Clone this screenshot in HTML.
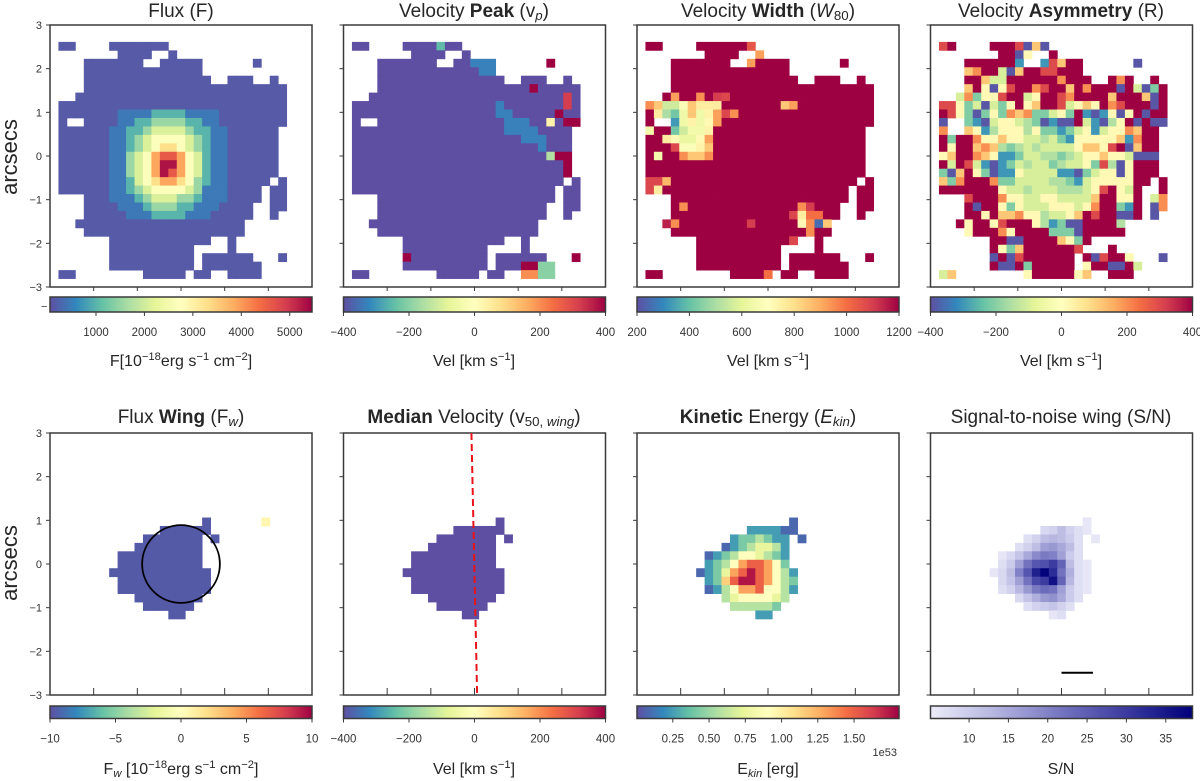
<!DOCTYPE html>
<html><head><meta charset="utf-8">
<style>
html,body{margin:0;padding:0;background:#fff;}
#wrap{position:relative;width:1200px;height:781px;overflow:hidden;font-family:"Liberation Sans",sans-serif;color:#262626;}
.ttl{position:absolute;width:300px;text-align:center;font-size:19px;line-height:24px;white-space:nowrap;}
.cbl{position:absolute;width:300px;text-align:center;font-size:16px;line-height:20px;white-space:nowrap;}
sub{font-size:70%;vertical-align:-3px;line-height:0}
sup{font-size:70%;vertical-align:6px;line-height:0}
svg{position:absolute;left:0;top:0;}
</style></head>
<body>
<div id="wrap">
<svg id="fig" width="1200" height="781"></svg>

<div class="ttl" style="left:31px;top:0px">Flux (F)</div>
<div class="ttl" style="left:324px;top:0px">Velocity <b>Peak</b> (v<sub><i>p</i></sub>)</div>
<div class="ttl" style="left:618px;top:0px">Velocity <b>Width</b> (<i>W</i><sub>80</sub>)</div>
<div class="ttl" style="left:911px;top:0px">Velocity <b>Asymmetry</b> (R)</div>
<div class="ttl" style="left:31px;top:406px">Flux <b>Wing</b> (F<sub><i>w</i></sub>)</div>
<div class="ttl" style="left:324px;top:406px"><b>Median</b> Velocity (v<sub>50, <i>wing</i></sub>)</div>
<div class="ttl" style="left:618px;top:406px"><b>Kinetic</b> Energy (<i>E<sub>kin</sub></i>)</div>
<div class="ttl" style="left:911px;top:406px">Signal-to-noise wing (S/N)</div>

<div class="cbl" style="left:31px;top:352px">F[10<sup>−18</sup>erg s<sup>−1</sup> cm<sup>−2</sup>]</div>
<div class="cbl" style="left:324px;top:352px">Vel [km s<sup>−1</sup>]</div>
<div class="cbl" style="left:618px;top:352px">Vel [km s<sup>−1</sup>]</div>
<div class="cbl" style="left:911px;top:352px">Vel [km s<sup>−1</sup>]</div>
<div class="cbl" style="left:31px;top:760px">F<sub><i>w</i></sub> [10<sup>−18</sup>erg s<sup>−1</sup> cm<sup>−2</sup>]</div>
<div class="cbl" style="left:324px;top:760px">Vel [km s<sup>−1</sup>]</div>
<div class="cbl" style="left:618px;top:760px">E<sub><i>kin</i></sub> [erg]</div>
<div class="cbl" style="left:911px;top:760px">S/N</div>
</div>

<script>
// ---------------- DATA ----------------
const N = 31;
const topMask = [
"","",
".##....#######",
"........####..#",
"....#######..#####......#",
"....##############",
"....###############..###..#",
"....########################",
"...#########################",
".###########################",
".###########################",
".#..########################",
".##########################",
".##########################",
".##########################",
".##########################",
".##########################",
".##########################",
".#########################.#",
".########################.##",
"....#####################.##",
"....####################..##",
"....####################..#",
"...####################",
"....###################",
".......############..#",
".......##########....#",
".......##########.######...#",
".......##########.#######",
".##........#####.##..####",
""];
// flux levels: [row, startCol, digits]
const fluxCore = [
[10,8,"111122221111"],
[11,7,"01122333322110"],[12,6,"0112234444322110"],[13,6,"0112345555432110"],
[14,6,"0112345665432110"],[15,6,"0113457887542110"],[16,6,"0113457997542110"],
[17,6,"0113457987542110"],[18,6,"0112456776532110"],[19,6,"0112345555431110"],
[20,6,"0111234443321110"],[21,7,"0111233322111"],[22,8,"011122221110"]];
const fluxLevelValues = [150,450,1000,1550,2100,2700,3300,3900,4600,5300];
const fluxTicks = [1000,2000,3000,4000,5000];

const vpDefault = -400;
const vpExceptions = [
[2,11,-250],[4,15,-330],[4,16,-330],[4,17,-330],[4,24,400],[5,16,-330],[5,17,-330],
[7,22,400],[8,26,320],[9,18,-330],[9,26,320],[10,18,-330],[10,19,-330],[10,25,400],
[11,19,-330],[11,20,-330],[11,21,-330],[11,24,30],[11,26,400],[11,27,400],
[12,19,-330],[12,20,-330],[12,21,-330],[12,22,-330],[13,21,-330],[13,22,-330],[13,23,-330],
[14,23,-330],[15,24,-150],[15,25,400],[15,26,400],[16,26,400],[17,26,400],
[27,7,400],[27,27,400],[28,21,400],[28,22,400],[28,23,-200],[28,24,-200],
[29,21,200],[29,22,200],[29,23,-200],[29,24,-200]];
const vTicks = [-400,-200,0,200,400];

const wDefault = 1200;
const wExceptions = [
[2,13,1050],[3,14,920],[4,13,920],[8,4,920],[8,7,950],[8,9,1100],[8,10,1080],
[9,1,950],[9,2,850],[9,3,560],[9,4,560],[9,5,680],[9,6,850],[9,7,760],[9,8,760],[9,9,760],[9,17,850],[9,18,920],
[10,2,760],[10,3,500],[10,4,420],[10,5,640],[10,6,850],[10,7,640],[10,8,740],[10,9,920],[10,10,1080],[10,11,950],
[11,4,330],[11,5,640],[11,6,740],[11,7,640],[11,8,720],[11,9,920],
[12,1,650],[12,4,420],[12,5,560],[12,6,650],[12,7,650],[12,8,740],
[13,3,760],[13,4,720],[13,5,620],[13,6,620],[13,7,720],[13,8,920],
[14,4,1080],[14,5,680],[14,6,680],[14,7,740],[14,8,850],
[15,2,650],[15,5,950],[15,6,850],[15,7,850],[15,8,950],
[18,1,1080],[18,2,1080],[18,3,880],[19,1,1080],[19,2,760],
[21,5,950],[21,19,950],[21,20,1100],[22,18,1080],[22,19,760],[22,20,1000],[22,21,1000],
[23,3,1150],[23,4,950],[23,13,1100],[23,19,720],[23,20,950],[23,21,250],[23,22,850],
[24,20,950],[25,18,1080],[29,15,1000]];
const wTicks = [200,400,600,800,1000,1200];

const asym = [
"","",
".rR....RRRrplp",
"........RRpy..R",
"....RRRRRRb..brlRR......p",
"....loRRgplRRrrRRR",
"....RRlggRRRRRRoRRR..RoR..R",
"....lRypyrRRorRRlRoRRRpRgptR",
"...gotyyrRRgyRRroRRRRlRRRlpR",
".rrytgpgtyRylRRrgylyRorRRRpR",
".RrytptytolottgytRbpbypyRpRR",
".p..tbpgyygGtpbppRgbpGyRpRpp",
".o..lybGyyyGyttbtgybgyyolRR",
".RtRRoyylyyggGgtbyyyyylboRR",
".RyRRlolGtGgGggggyllyrRplRR",
".ylRRolybbtggGGtGgyylyygppp",
".RgRrgbpbtgGggtGggytrGpyRRR",
".tplRytpbbyggggbbptgyypyRRR",
".ltoRRRottggggGGtbgyyyyyRR.R",
".RRRRRRRyggGgggGGGgyrRygR..R",
"....rRRRoyyggyygggglRRyyR.go",
"....RpRRytygggyyygyoRRtbR.po",
"....RRyRlloyyGggylRrRRppR.p",
"...RyRRyrRRRyGbtppRRRRG",
"....yRRRoyRRRRtttpRRRRR",
".......RRppRRRRlytR",
".......RytlRRRRRRr...R",
".......pRprRRRRRR.RprRRy...p",
".......RppRtRRRRR.yRRppRg",
".gl........yRRRRRyl..RRR",
""];
const asymCodes = ["R","r","o","l","y","g","G","t","b","p"];
const asymValues = [400,300,200,120,15,-100,-150,-210,-300,-390];

const botMask = [
"","","","","","","","","","",
"..................#",
".............######",
"...........#######.#",
"..........########",
"........##########",
"........##########",
".......############",
"........###########",
"........###########",
"..........########",
"...........######",
"..............##",
"","","","","","","","",""];
const fwDefault = -9.6;
const fwExtra = [[10,25,0.6]];
const fwTicks = [-10,-5,0,5,10];
const v50Default = -400;

const ekinRows = [[10,18,"a"],[11,13,"bbbbaa"],[12,11,"bccdcbb.a"],[13,10,"abcdeedb"],
[14,8,"abcdffedcb"],[15,8,"bcdfhiihfc"],[16,7,"abcehijihfdb"],[17,8,"bcgijjihfdc"],
[18,8,"abdfhhiffdb"],[19,10,"deffffed"],[20,11,"dddddc"],[21,14,"bb"]];
const ekinCodes = ["a","b","c","d","e","f","g","h","i","j"];
const ekinValues = [0.08,0.25,0.42,0.58,0.75,0.9,1.15,1.3,1.5,1.75];
const ekinTicks = [0.25,0.5,0.75,1.0,1.25,1.5];
const ekinTickLabels = ["0.25","0.50","0.75","1.00","1.25","1.50"];

const snRows = [[10,18,[6]],[11,13,[8,9,12,9,7,6]],[12,11,[7,9,12,13,12,10,7]],[12,19,[6]],
[13,10,[7,9,12,16,17,15,12,7]],[14,8,[6,8,11,15,19,21,20,16,10,7]],
[15,8,[7,10,16,22,26,27,30,24,12,7,6]],[16,7,[6,8,12,20,26,34,38,32,22,14,7,6]],
[17,8,[8,11,16,22,28,30,36,24,13,7,6]],[18,8,[7,9,13,17,21,23,22,16,10,7,6]],
[19,10,[8,11,14,17,18,15,10,7]],[20,11,[7,9,10,11,9,7]],[21,14,[6,7]]];
const snTicks = [10,15,20,25,30,35];

const axisTicks = [-3,-2,-1,0,1,2,3];
const xTicks = [-2,-1,0,1,2];

// ---------------- DRAWING ----------------
const NS = "http://www.w3.org/2000/svg";
const svg = document.getElementById("fig");
function el(tag, attrs, parent){
  const e = document.createElementNS(NS, tag);
  for (const k in attrs) e.setAttribute(k, attrs[k]);
  (parent||svg).appendChild(e);
  return e;
}
const SPEC = ["#5e4fa2","#3288bd","#66c2a5","#abdda4","#e6f598","#ffffbf","#fee08b","#fdae61","#f46d43","#d53e4f","#9e0142"];
const PURP = ["#ececfa","#b4b4e0","#7474c0","#3a3aa0","#00007a"];
function hex(h){return [parseInt(h.substr(1,2),16),parseInt(h.substr(3,2),16),parseInt(h.substr(5,2),16)];}
function interp(stops,t){
  t=Math.max(0,Math.min(1,t));
  const f=t*(stops.length-1), i=Math.min(Math.floor(f),stops.length-2), u=f-i;
  const a=hex(stops[i]), b=hex(stops[i+1]);
  return "rgb("+a.map((v,k)=>Math.round(v+(b[k]-v)*u)).join(",")+")";
}

const W = 262;
const colX = [50, 343.5, 637, 930.5];
const rowY = [25, 433];
const CELL_AS = 6/N;

function makeAxes(x0,y0){
  const xs = a => x0 + (a+3)/6*W;
  const ys = a => y0 + (3-a)/6*W;
  return {xs, ys};
}

function drawPanel(pi, x0, y0, getVal, vmin, vmax, stops, name){
  const ax = makeAxes(x0,y0);
  const g = el("g",{});
  
  
  for (let r=0;r<N;r++) for (let c=0;c<N;c++){
    const v = getVal(r,c);
    if (v===null || v===undefined) continue;
    const aL = -3 + c*CELL_AS, aT = 3 - r*CELL_AS;
    const x = ax.xs(aL), y = ax.ys(aT);
    const rc = el("rect",{x:x.toFixed(2),y:y.toFixed(2),width:(W/N+0.4).toFixed(2),height:(W/N+0.4).toFixed(2),fill:interp(stops,(v-vmin)/(vmax-vmin))},g);
    
    
  }
  return ax;
}

function drawFrame(x0,y0,showLabels,inside,name){
  const ax = makeAxes(x0,y0);
  const fr = el("rect",{x:x0,y:y0,width:W,height:W,fill:"none",stroke:"#3a3a3a","stroke-width":1.5});
  
  
  axisTicks.forEach(t=>{
    const y = ax.ys(t);
    el("line",{x1:x0-4,x2:x0,y1:y,y2:y,stroke:"#3a3a3a","stroke-width":1});
    if (showLabels){
      const tx = el("text",{x:x0-8,y:y+4,"text-anchor":"end","font-size":11,fill:"#333","font-family":"Liberation Sans, sans-serif"});
      tx.textContent = t<0 ? "−"+Math.abs(t) : String(t);
      
      
    }
  });
  xTicks.forEach(t=>{
    const x = ax.xs(t);
    if (inside) el("line",{x1:x,x2:x,y1:y0+W,y2:y0+W-7,stroke:"#3a3a3a","stroke-width":1});
    else el("line",{x1:x,x2:x,y1:y0+W,y2:y0+W+4,stroke:"#3a3a3a","stroke-width":1});
  });
}

let gradId=0;
function drawColorbar(x0,y,h,vmin,vmax,stops,ticks,labels,name){
  const id="g"+(gradId++);
  const lg = el("linearGradient",{id:id,x1:"0",x2:"1",y1:"0",y2:"0"});
  for (let i=0;i<=20;i++) el("stop",{offset:(i/20),"stop-color":interp(stops,i/20)},lg);
  const cb = el("rect",{x:x0,y:y,width:W,height:h,fill:"url(#"+id+")",stroke:"#3a3a3a","stroke-width":1.5});
  
  
  ticks.forEach((t,i)=>{
    const x = x0 + (t-vmin)/(vmax-vmin)*W;
    el("line",{x1:x,x2:x,y1:y+h,y2:y+h+4,stroke:"#3a3a3a","stroke-width":1});
    const tx = el("text",{x:x,y:y+h+24,"text-anchor":"middle","font-size":11.5,fill:"#333","font-family":"Liberation Sans, sans-serif"});
    const s = labels ? labels[i] : String(t);
    tx.textContent = s.replace("-","−");
    
    
  });
}

function maskGet(mask,r,c){ const s=mask[r]||""; return s[c]==="#"; }

// Panel 1: flux
const fluxGrid = [];
for (let r=0;r<N;r++){ fluxGrid.push(new Array(N).fill(0)); }
fluxCore.forEach(([r,c0,s])=>{ for(let i=0;i<s.length;i++) fluxGrid[r][c0+i]=+s[i]; });
drawPanel(0,colX[0],rowY[0],(r,c)=> maskGet(topMask,r,c)? fluxLevelValues[fluxGrid[r][c]] : null, 50,5460,SPEC,"flux");
drawFrame(colX[0],rowY[0],true,false,"flux");
drawColorbar(colX[0],297,15,50,5460,SPEC,fluxTicks,null,"flux");

// Panel 2: velocity peak
const vpMap = {}; vpExceptions.forEach(([r,c,v])=>{vpMap[r+","+c]=v;});
drawPanel(1,colX[1],rowY[0],(r,c)=>{ const k=r+","+c; if(k in vpMap) return vpMap[k]; return maskGet(topMask,r,c)?vpDefault:null; },-400,400,SPEC,"velocity-peak");
drawFrame(colX[1],rowY[0],false,false,"velocity-peak");
drawColorbar(colX[1],297,15,-400,400,SPEC,vTicks,null,"velocity-peak");

// Panel 3: velocity width
const wMap = {}; wExceptions.forEach(([r,c,v])=>{wMap[r+","+c]=v;});
drawPanel(2,colX[2],rowY[0],(r,c)=>{ const k=r+","+c; if(k in wMap) return wMap[k]; return maskGet(topMask,r,c)?wDefault:null; },200,1200,SPEC,"velocity-width");
drawFrame(colX[2],rowY[0],false,false,"velocity-width");
drawColorbar(colX[2],297,15,200,1200,SPEC,wTicks,null,"velocity-width");

// Panel 4: asymmetry
drawPanel(3,colX[3],rowY[0],(r,c)=>{ const s=asym[r]||""; const ch=s[c]; const i=asymCodes.indexOf(ch); return i<0?null:asymValues[i]; },-400,400,SPEC,"velocity-asymmetry");
drawFrame(colX[3],rowY[0],false,false,"velocity-asymmetry");
drawColorbar(colX[3],297,15,-400,400,SPEC,vTicks,null,"velocity-asymmetry");

const a1 = el("text",{x:41,y:310,"font-size":11,fill:"#333","font-family":"Liberation Sans, sans-serif"}); a1.textContent="−";



// Panel 5: flux wing
const fwMap = {}; fwExtra.forEach(([r,c,v])=>{fwMap[r+","+c]=v;});
drawPanel(4,colX[0],rowY[1],(r,c)=>{ const k=r+","+c; if(k in fwMap) return fwMap[k]; if(!maskGet(botMask,r,c)) return null; if(c===18 && r>=12 && r<=15) return null; return fwDefault; },-10,10,SPEC,"flux-wing");
drawFrame(colX[0],rowY[1],true,true,"flux-wing");
drawColorbar(colX[0],706,12.5,-10,10,SPEC,fwTicks,null,"flux-wing");
{ const ax=makeAxes(colX[0],rowY[1]);
  const circ = el("circle",{cx:ax.xs(0),cy:ax.ys(0),r:(ax.xs(0.89)-ax.xs(0)),fill:"none",stroke:"#000","stroke-width":1.8});
  
  
}

// Panel 6: median velocity
drawPanel(5,colX[1],rowY[1],(r,c)=>{ if(!maskGet(botMask,r,c)) return null; if(c===18 && r>=12 && r<=15) return null; return v50Default; },-400,400,SPEC,"median-velocity");
drawFrame(colX[1],rowY[1],false,true,"median-velocity");
drawColorbar(colX[1],706,12.5,-400,400,SPEC,vTicks,null,"median-velocity");
{ const ax=makeAxes(colX[1],rowY[1]);
  const ln = el("line",{x1:ax.xs(-0.07),y1:ax.ys(3),x2:ax.xs(0.06),y2:ax.ys(-3),stroke:"#e8141a","stroke-width":2,"stroke-dasharray":"7,4"});
  
  
}

// Panel 7: kinetic energy
const ekGrid = {}; ekinRows.forEach(([r,c0,s])=>{ for(let i=0;i<s.length;i++){ const j=ekinCodes.indexOf(s[i]); if(j>=0) ekGrid[r+","+(c0+i)]=ekinValues[j]; } });
drawPanel(6,colX[2],rowY[1],(r,c)=>{ const k=r+","+c; return (k in ekGrid)?ekGrid[k]:null; },0.003,1.81,SPEC,"kinetic-energy");
drawFrame(colX[2],rowY[1],false,true,"kinetic-energy");
drawColorbar(colX[2],706,12.5,0.003,1.81,SPEC,ekinTicks,ekinTickLabels,"kinetic-energy");
{ const t = el("text",{x:colX[2]+W-2,y:756,"text-anchor":"end","font-size":11,fill:"#333","font-family":"Liberation Sans, sans-serif"}); t.textContent="1e53";
  
  
}

// Panel 8: S/N
const snGrid = {}; snRows.forEach(([r,c0,arr])=>{ arr.forEach((v,i)=>{ snGrid[r+","+(c0+i)]=v; }); });
drawPanel(7,colX[3],rowY[1],(r,c)=>{ const k=r+","+c; return (k in snGrid)?snGrid[k]:null; },5.1,38.4,PURP,"signal-to-noise");
drawFrame(colX[3],rowY[1],false,true,"signal-to-noise");
drawColorbar(colX[3],706,12.5,5.1,38.4,PURP,snTicks,null,"signal-to-noise");
{ const ax=makeAxes(colX[3],rowY[1]);
  const sb = el("line",{x1:ax.xs(0),x2:ax.xs(0.72),y1:ax.ys(-2.49),y2:ax.ys(-2.49),stroke:"#000","stroke-width":2});
  
  
}

// y-axis titles
[[157],[563]].forEach(([cy],i)=>{
  const t = el("text",{x:0,y:0,transform:"translate(17,"+cy+") rotate(-90)","text-anchor":"middle","font-size":22,fill:"#262626","font-family":"Liberation Sans, sans-serif"});
  t.textContent="arcsecs";
  
  
});
</script>
</body></html>
